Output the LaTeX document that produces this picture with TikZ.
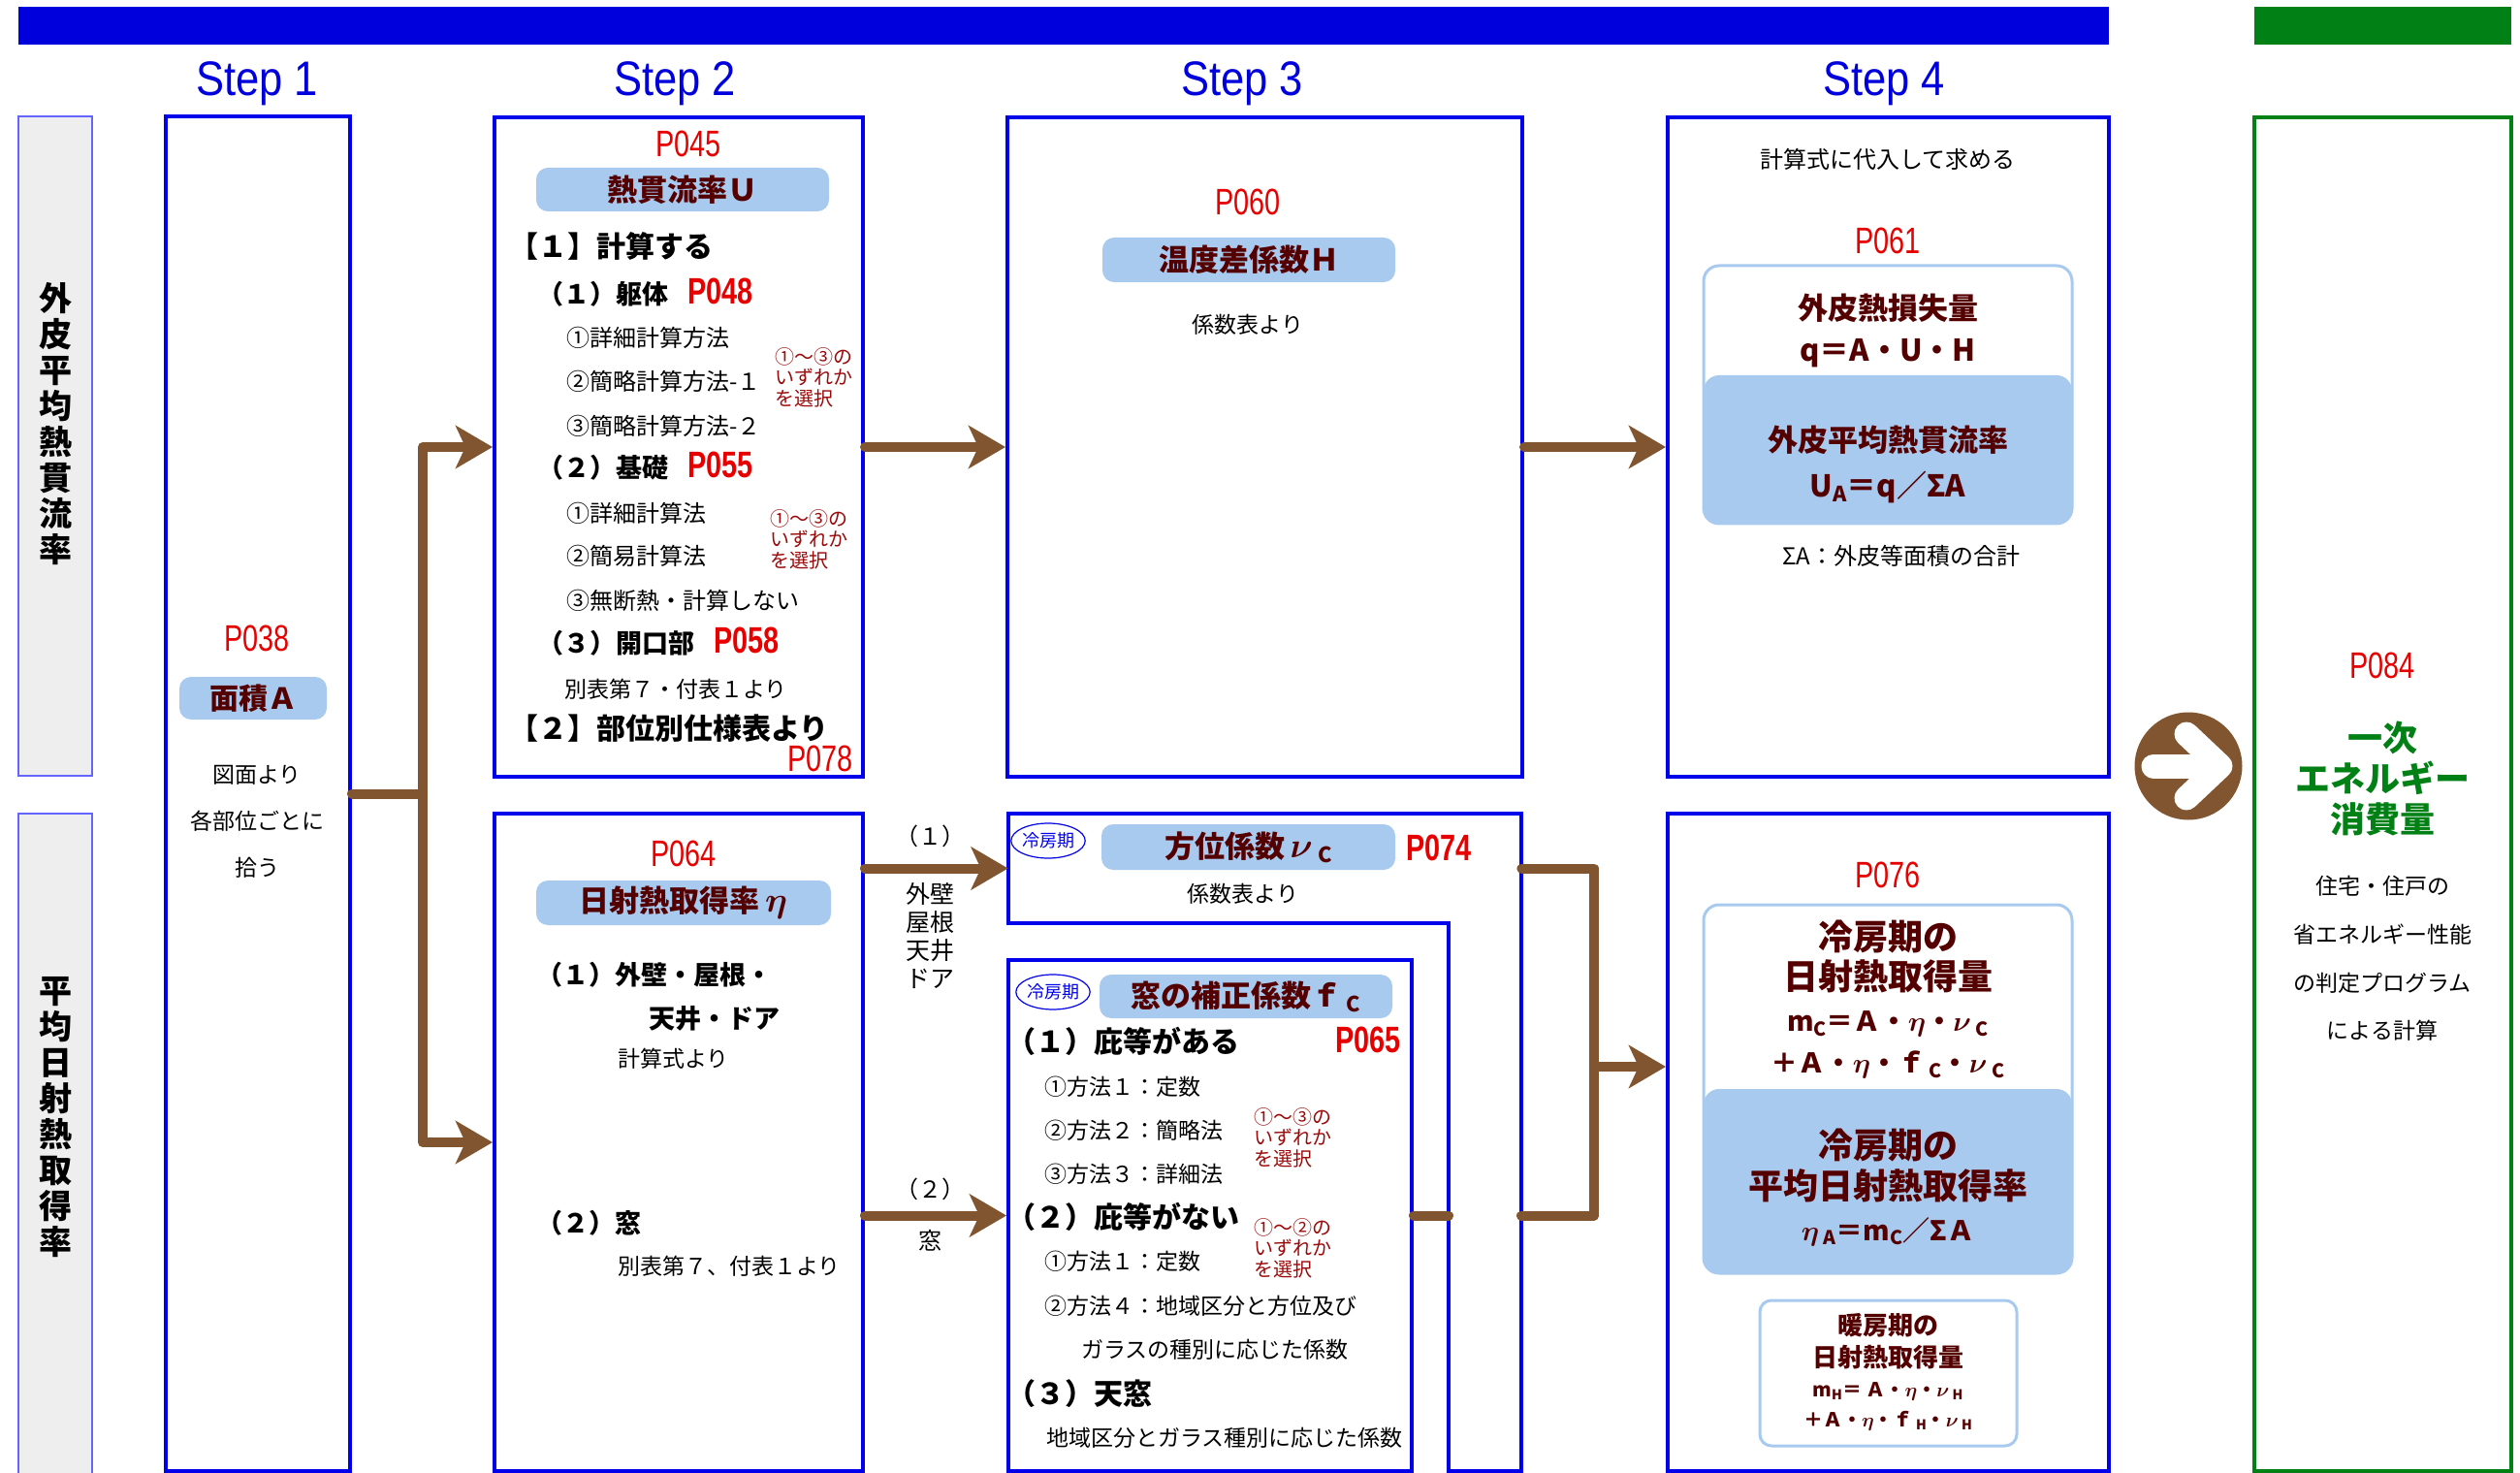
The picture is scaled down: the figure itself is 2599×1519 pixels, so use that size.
\documentclass[tikz,border=0pt]{standalone}
\usepackage{fontspec}
\usepackage{amsmath}
\usepackage{graphicx}
\setmainfont{Noto Sans CJK JP}
\newfontfamily\libsans{Liberation Sans}
\usetikzlibrary{arrows.meta,shapes.geometric}
\definecolor{boxblue}{RGB}{0,0,235}
\definecolor{barblue}{RGB}{0,0,220}
\definecolor{pillblue}{RGB}{168,202,238}
\definecolor{mymaroon}{RGB}{85,0,0}
\definecolor{pred}{RGB}{230,0,0}
\definecolor{notered}{RGB}{155,10,10}
\definecolor{brownc}{RGB}{128,85,48}
\definecolor{greenc}{RGB}{0,128,21}
\definecolor{grayfill}{RGB}{238,238,238}
\definecolor{grayline}{RGB}{100,100,255}
\newcommand\fs[2]{\fontsize{#1}{#2}\selectfont}
\newcommand\pnum[1]{{\color{pred}\libsans\fs{19}{19}\scalebox{0.76}[1]{#1}}}
\newcommand\sbc[1]{\raisebox{-0.3ex}{\scalebox{0.7}{#1}}}
\newcommand\steplab[1]{{\libsans\fs{25}{25}\scalebox{0.87}[1]{#1}}}
\newcommand\bigeta{\scalebox{1.25}{$\boldsymbol{\eta}$}}
\newcommand\bignu{\scalebox{1.25}{$\boldsymbol{\nu}$}}
\begin{document}
\begin{tikzpicture}[x=0.5pt,y=-0.5pt,
  every node/.style={inner sep=0pt},
  mybox/.style={draw=boxblue,line width=2pt,fill=white,rectangle},
  mypill/.style={fill=pillblue,rounded corners=6pt,text=mymaroon,font=\bfseries\fs{15.5}{15.5}},
  rbox/.style={draw=pillblue,line width=1.5pt,fill=white,rounded corners=8pt},
  rfill/.style={fill=pillblue,rounded corners=8pt},
  graybox/.style={fill=grayfill,draw=grayline,line width=0.6pt},
  mybody/.style={font=\fs{12}{12}},
  mysmall/.style={font=\fs{11.5}{11.5}},
  myhead/.style={font=\bfseries\fs{13.5}{13.5}},
  myheadb/.style={font=\bfseries\fs{15}{15}},
  mynote/.style={text=notered,font=\fs{10}{10.8},align=left,anchor=west},
  mytitle/.style={text=mymaroon,font=\bfseries\fs{15.5}{15.5}},
  conn/.style={draw=brownc,line width=5pt,line cap=round,line join=round},
  arr/.style={conn,-{Stealth[length=19pt,width=22pt,inset=5pt]}},
  coolel/.style={ellipse,draw=boxblue,line width=0.6pt,minimum width=34pt,minimum height=18pt,text=boxblue,font=\fs{9}{9}}
]
\fill[white] (0,0) rectangle (2599,1519);
\useasboundingbox (0,0) rectangle (2599,1519);

% top bars
\node[fill=barblue,minimum width=1078pt,minimum height=19.5pt] (topbar) at (1097,26.5) {};
\node[fill=greenc,minimum width=132.5pt,minimum height=19.5pt] (greenbar) at (2457.5,26.5) {};

% step labels
\node[text=barblue] (st1) at (265,86) {\steplab{Step 1}};
\node[text=barblue] (st2) at (696,86) {\steplab{Step 2}};
\node[text=barblue] (st3) at (1281,86) {\steplab{Step 3}};
\node[text=barblue] (st4) at (1943,86) {\steplab{Step 4}};

% gray side labels
\node[graybox,minimum width=38pt,minimum height=340pt] (g1) at (57,460) {};
\node[graybox,minimum width=38pt,minimum height=343pt] (g2) at (57,1182) {};
\node[font=\bfseries\fs{17}{18.5},align=center] (g1t) at (57,437) {外\\皮\\平\\均\\熱\\貫\\流\\率};
\node[font=\bfseries\fs{17}{18.5},align=center] (g2t) at (57,1152) {平\\均\\日\\射\\熱\\取\\得\\率};

% boxes
\node[mybox,minimum width=95pt,minimum height=698.5pt] (s1) at (266,818.5) {};
\node[mybox,minimum width=190pt,minimum height=340pt] (s2a) at (700,461) {};
\node[mybox,minimum width=190pt,minimum height=339pt] (s2b) at (700,1178) {};
\node[mybox,minimum width=265.5pt,minimum height=340pt] (s3a) at (1304.5,461) {};
\node[mybox,minimum width=227.5pt,minimum height=340pt] (s4a) at (1947.5,461) {};
\node[mybox,minimum width=227.5pt,minimum height=339pt] (s4b) at (1947.5,1178) {};
\draw[boxblue,line width=2pt,fill=white,line join=miter] (1040,839) -- (1569,839) -- (1569,1517) -- (1494,1517) -- (1494,952) -- (1040,952) -- cycle;
\node[minimum width=264.5pt,minimum height=56.5pt] (s3bt) at (1304.5,895.5) {};
\node[mybox,minimum width=208pt,minimum height=263.5pt] (s3c) at (1248,1253.5) {};
\node[draw=greenc,line width=2pt,fill=white,minimum width=132.5pt,minimum height=698pt] (s5) at (2457.5,819) {};

% circle arrow
\node[circle,fill=brownc,minimum size=55.5pt] (circ) at (2257,790) {};
\draw[white,line width=12.5pt,line cap=round] (2221,790) -- (2285,790);
\draw[white,line width=12.5pt,line cap=round,line join=round] (2255,757) -- (2290,790) -- (2255,823);

% connectors
\coordinate (bus) at (436,818.5);
\draw[conn] (s1.east) -- (bus);
\draw[arr] (bus) |- (s2a.west);
\draw[arr] (bus) |- (s2b.west);
\draw[arr] (s2a.east) -- (s3a.west);
\draw[arr] (s3a.east) -- (s4a.west);
\draw[arr] (s2b.east |- s3bt.west) -- (s3bt.west);
\draw[arr] (s2b.east |- s3c.west) -- (s3c.west);
\coordinate (Lv) at (1494,1253.5);
\draw[conn] (s3c.east) -- (Lv);
\coordinate (rbus) at (1644,895.5);
\coordinate (Lr) at (1569,1253.5);
\draw[conn] (s3bt.east) -- (rbus) |- (Lr);
\coordinate (rb2) at (1644,1100);
\draw[arr] (rb2) -- (s4b.west |- rb2);

% arrow labels
\node[mybody] (l1) at (959,862) {（１）};
\node[font=\fs{12.5}{14.5},align=center] (l1b) at (959,965.5) {外壁\\屋根\\天井\\ドア};
\node[mybody] (l2) at (959,1226) {（２）};
\node[mybody] (l2b) at (959,1279) {窓};

% step 1
\node (p038) at (265,658) {\pnum{P038}};
\node[mypill,minimum width=76pt,minimum height=22pt,font=\bfseries\fs{15}{15}] (area) at (261,720) {面積Ａ};
\node[font=\fs{11.5}{24},align=center] (s1txt) at (265,847) {図面より\\各部位ごとに\\拾う};

% step 2 upper
\node (p045) at (710,148) {\pnum{P045}};
\node[mypill,minimum width=151pt,minimum height=22.5pt] (pu) at (704,195.5) {熱貫流率Ｕ};
\node[myheadb,anchor=west] (a1) at (525,254) {【１】計算する};
\node[myhead,anchor=west] (a11) at (554,302) {（１）躯体\hspace{10pt}\pnum{P048}};
\node[mybody,anchor=west] (a111) at (584,348) {①詳細計算方法};
\node[mybody,anchor=west] (a112) at (584,393) {②簡略計算方法-１};
\node[mybody,anchor=west] (a113) at (584,439) {③簡略計算方法-２};
\node[mynote] (n1) at (799,389) {①～③の\\いずれか\\を選択};
\node[myhead,anchor=west] (a12) at (554,481) {（２）基礎\hspace{10pt}\pnum{P055}};
\node[mybody,anchor=west] (a121) at (584,529) {①詳細計算法};
\node[mybody,anchor=west] (a122) at (584,573) {②簡易計算法};
\node[mybody,anchor=west] (a123) at (584,619) {③無断熱・計算しない};
\node[mynote] (n2) at (794,556) {①～③の\\いずれか\\を選択};
\node[myhead,anchor=west] (a13) at (554,662) {（３）開口部\hspace{10pt}\pnum{P058}};
\node[mysmall,anchor=west] (a131) at (582,711) {別表第７・付表１より};
\node[myheadb,anchor=west] (a2) at (525,751) {【２】部位別仕様表より};
\node[anchor=east] (p078) at (880,782) {\pnum{P078}};

% step 2 lower
\node (p064) at (705,880) {\pnum{P064}};
\node[mypill,minimum width=152pt,minimum height=23pt] (peta) at (705,931) {日射熱取得率\,\bigeta};
\node[myhead,anchor=west] (b1) at (553,1005) {（１）外壁・屋根・};
\node[myhead,anchor=west] (b1b) at (669,1050) {天井・ドア};
\node[mysmall,anchor=west] (b1c) at (637,1092) {計算式より};
\node[myhead,anchor=west] (b2) at (553,1261) {（２）窓};
\node[mysmall,anchor=west] (b2c) at (637,1306) {別表第７、付表１より};

% step 3 upper
\node (p060) at (1287,208) {\pnum{P060}};
\node[mypill,minimum width=151pt,minimum height=23pt] (ph) at (1288,268) {温度差係数Ｈ};
\node[mysmall] (c1) at (1287,335) {係数表より};

% step 3 lower
\node[coolel] (e1) at (1081,867) {冷房期};
\node[mypill,minimum width=151.5pt,minimum height=23.5pt] (pnu) at (1287.5,873.5) {方位係数\,\bignu\,\sbc{C}};
\node[font=\bfseries] (p074) at (1484,874) {\pnum{P074}};
\node[mysmall] (c2) at (1282,922) {係数表より};
\node[coolel] (e2) at (1086,1023) {冷房期};
\node[mypill,minimum width=151pt,minimum height=22.5pt] (pf) at (1285,1027.5) {窓の補正係数ｆ\,\sbc{C}};
\node[myheadb,anchor=west] (d1) at (1038,1074) {（１）庇等がある};
\node[font=\bfseries] (p065) at (1411,1072) {\pnum{P065}};
\node[mysmall,anchor=west] (d11) at (1077,1121) {①方法１：定数};
\node[mysmall,anchor=west] (d12) at (1077,1166) {②方法２：簡略法};
\node[mysmall,anchor=west] (d13) at (1077,1211) {③方法３：詳細法};
\node[mynote] (n3) at (1293,1173) {①～③の\\いずれか\\を選択};
\node[myheadb,anchor=west] (d2) at (1038,1255) {（２）庇等がない};
\node[mynote] (n4) at (1293,1287) {①～②の\\いずれか\\を選択};
\node[mysmall,anchor=west] (d21) at (1077,1301) {①方法１：定数};
\node[mysmall,anchor=west] (d22) at (1077,1347) {②方法４：地域区分と方位及び};
\node[mysmall,anchor=west] (d23) at (1115,1392) {ガラスの種別に応じた係数};
\node[myheadb,anchor=west] (d3) at (1038,1437) {（３）天窓};
\node[mysmall,anchor=west] (d31) at (1079,1483) {地域区分とガラス種別に応じた係数};

% step 4 upper
\node[mybody] (f0) at (1947,164) {計算式に代入して求める};
\node (p061) at (1947,248) {\pnum{P061}};
\node[rbox,minimum width=190pt,minimum height=133pt] (q1) at (1947,407) {};
\node[rfill,minimum width=190pt,minimum height=76.5pt] (q1f) at (1947,463.5) {};
\node[mytitle] (f1) at (1947,318) {外皮熱損失量};
\node[mytitle] (f2) at (1947,364) {q＝A・U・H};
\node[mytitle] (f3) at (1947,454) {外皮平均熱貫流率};
\node[mytitle] (f4) at (1947,502) {U\sbc{A}＝q／ΣA};
\node[mybody] (f5) at (1961,573) {ΣA：外皮等面積の合計};

% step 4 lower
\node (p076) at (1947,902) {\pnum{P076}};
\node[rbox,minimum width=190pt,minimum height=190pt] (q2) at (1947,1123) {};
\node[rfill,minimum width=190pt,minimum height=95pt] (q2f) at (1947,1218) {};
\node[text=mymaroon,font=\bfseries\fs{18}{20.5},align=center] (k1) at (1947,986.5) {冷房期の\\日射熱取得量};
\node[text=mymaroon,font=\bfseries\fs{14}{21.5},align=center] (k2) at (1947,1077.5) {m\sbc{C}＝Ａ・$\boldsymbol\eta$・$\boldsymbol\nu$\,\sbc{C}\\＋Ａ・$\boldsymbol\eta$・ｆ\,\sbc{C}・$\boldsymbol\nu$\,\sbc{C}};
\node[text=mymaroon,font=\bfseries\fs{18}{21},align=center] (k3) at (1947,1202) {冷房期の\\平均日射熱取得率};
\node[text=mymaroon,font=\bfseries\fs{14}{14}] (k4) at (1947,1270) {$\boldsymbol\eta$\,\sbc{A}＝m\sbc{C}／ΣＡ};
\node[rbox,rounded corners=6pt,minimum width=132.5pt,minimum height=75pt] (q3) at (1947.5,1416) {};
\node[text=mymaroon,font=\bfseries\fs{13}{16.5},align=center] (k5) at (1947,1383.5) {暖房期の\\日射熱取得量};
\node[text=mymaroon,font=\bfseries\fs{10}{15.5},align=center] (k6) at (1947,1450.5) {m\sbc{H}＝ Ａ・$\boldsymbol\eta$・$\boldsymbol\nu$\,\sbc{H}\\＋Ａ・$\boldsymbol\eta$・ｆ\,\sbc{H}・$\boldsymbol\nu$\,\sbc{H}};

% step 5 (green)
\node (p084) at (2457,686) {\pnum{P084}};
\node[text=greenc,font=\bfseries\fs{18}{21},align=center] (gt) at (2457,803) {一次\\エネルギー\\消費量};
\node[font=\fs{11.5}{24.8},align=center] (gt2) at (2457,988.5) {住宅・住戸の\\省エネルギー性能\\の判定プログラム\\による計算};
\end{tikzpicture}
\end{document}
